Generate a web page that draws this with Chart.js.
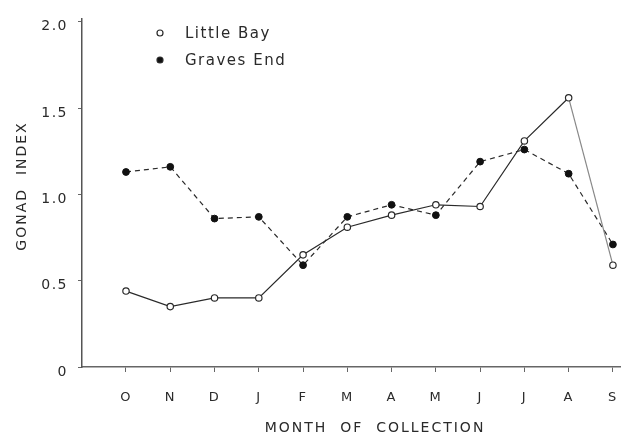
<!DOCTYPE html>
<html>
<head>
<meta charset="utf-8">
<script src="https://cdn.jsdelivr.net/npm/chart.js@4.4.1/dist/chart.umd.min.js"></script>
<style>
  html, body { margin: 0; padding: 0; background: #fff; }
  #wrap { width: 638px; height: 439px; }
</style>
</head>
<body>
<div id="wrap"><canvas id="c" width="638" height="439"></canvas></div>
<script>
// ---- data ----
const months = ['O', 'N', 'D', 'J', 'F', 'M', 'A', 'M', 'J', 'J', 'A', 'S'];
const littleBay = [0.44, 0.35, 0.40, 0.40, 0.65, 0.81, 0.88, 0.94, 0.93, 1.31, 1.56, 0.59];
const gravesEnd = [1.13, 1.16, 0.86, 0.87, 0.59, 0.87, 0.94, 0.88, 1.19, 1.26, 1.12, 0.71];
const yTickValues = [0, 0.5, 1.0, 1.5, 2.0];
const yTickLabels = ['0', '0.5', '1.0', '1.5', '2.0'];
const seriesNames = ['Little Bay', 'Graves End'];
const xTitle = 'MONTH  OF  COLLECTION';
const yTitle = 'GONAD  INDEX';

const FONT = "'DejaVu Sans', sans-serif";
const INK = '#2a2a2a';

const spacingPlugin = {
  id: 'spacing',
  beforeUpdate(c) { c.ctx.letterSpacing = '1.5px'; },
  beforeLayout(c) { c.ctx.letterSpacing = '1.5px'; },
  beforeDraw(c) { c.ctx.letterSpacing = '1.5px'; }
};

// axis titles drawn at the positions they hold in the reference
const axisTitlePlugin = {
  id: 'axisTitles',
  afterDraw(c) {
    const ctx = c.ctx;
    const o = c.options.plugins.axisTitles;
    ctx.save();
    ctx.fillStyle = INK;
    ctx.textAlign = 'center';
    ctx.textBaseline = 'middle';
    ctx.letterSpacing = '2px';
    ctx.font = '14px ' + FONT;
    ctx.fillText(o.x, 375, 428);
    ctx.translate(22, 186);
    ctx.rotate(-Math.PI / 2);
    ctx.fillText(o.y, 0, 0);
    ctx.restore();
  }
};

const legendPlugin = {
  id: 'customLegend',
  afterDraw(c) {
    const ctx = c.ctx;
    ctx.save();
    ctx.letterSpacing = '1.5px';
    c.data.datasets.forEach((ds, i) => {
      const cx = 160, cy = 33 + 27 * i;
      ctx.beginPath();
      ctx.arc(cx, cy, 3, 0, Math.PI * 2);
      ctx.fillStyle = ds.pointBackgroundColor;
      ctx.fill();
      ctx.lineWidth = 1.2;
      ctx.strokeStyle = INK;
      ctx.stroke();
      ctx.fillStyle = INK;
      ctx.font = '15px ' + FONT;
      ctx.textBaseline = 'middle';
      ctx.textAlign = 'left';
      ctx.fillText(ds.label, 185, cy + 1);
    });
    ctx.restore();
  }
};

new Chart(document.getElementById('c'), {
  type: 'line',
  data: {
    datasets: [
      {
        label: seriesNames[0],
        data: littleBay.map((v, i) => ({ x: i, y: v })),
        borderColor: INK,
        borderWidth: 1.2,
        pointRadius: 3.2,
        pointBorderWidth: 1.2,
        pointBackgroundColor: '#ffffff',
        pointBorderColor: INK,
        tension: 0,
        segment: { borderColor: s => s.p0DataIndex === 10 ? '#888' : undefined }
      },
      {
        label: seriesNames[1],
        data: gravesEnd.map((v, i) => ({ x: i, y: v })),
        borderColor: INK,
        borderWidth: 1.2,
        borderDash: [5, 4],
        pointRadius: 3.4,
        pointBorderWidth: 1,
        pointBackgroundColor: '#111111',
        pointBorderColor: '#111111',
        tension: 0
      }
    ]
  },
  options: {
    responsive: false,
    animation: false,
    devicePixelRatio: 1,
    layout: { padding: { top: 14, right: 18, left: 0, bottom: 0 } },
    plugins: {
      legend: { display: false },
      tooltip: { enabled: false },
      axisTitles: { x: xTitle, y: yTitle }
    },
    scales: {
      x: {
        type: 'linear',
        min: -0.994,
        max: 11.16,
        afterBuildTicks: s => { s.ticks = months.map((m, i) => ({ value: i })); },
        afterFit: s => { s.height = 439 - 367; },
        ticks: {
          callback: (v) => months[v],
          color: INK,
          font: { family: FONT, size: 13 },
          padding: 18,
          maxRotation: 0,
          autoSkip: false
        },
        grid: { display: true, drawOnChartArea: false, tickLength: 5, tickColor: '#666', tickWidth: 1 },
        border: { display: true, color: '#666', width: 1.5 }
      },
      y: {
        type: 'linear',
        min: 0,
        max: 2.02,
        afterBuildTicks: s => { s.ticks = yTickValues.map(v => ({ value: v })); },
        afterFit: s => { s.width = 82; },
        ticks: {
          callback: (v) => yTickLabels[yTickValues.indexOf(v)],
          color: INK,
          font: { family: FONT, size: 14 },
          padding: 10,
          labelOffset: 5
        },
        grid: { display: true, drawOnChartArea: false, tickLength: 4, tickColor: '#666', tickWidth: 1 },
        border: { display: true, color: '#555', width: 1.5 }
      }
    }
  },
  plugins: [spacingPlugin, axisTitlePlugin, legendPlugin]
});
</script>
</body>
</html>
